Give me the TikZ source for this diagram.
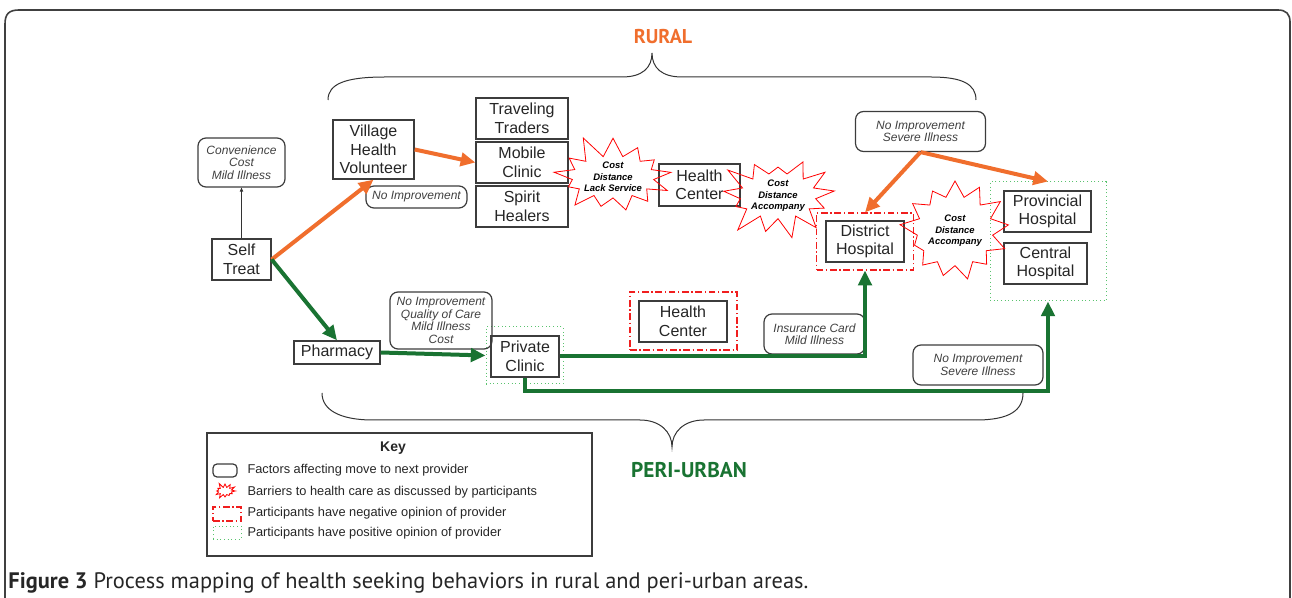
\documentclass[tikz,border=0pt]{standalone}
\usepackage{fontspec}
\setmainfont{Liberation Sans}
\newfontfamily\capfont{PT Sans}
\usetikzlibrary{arrows.meta,shapes.symbols}

\definecolor{ruralorange}{RGB}{240,110,45}
\definecolor{urbangreen}{RGB}{25,115,50}
\definecolor{posgreen}{RGB}{90,195,110}
\definecolor{negred}{RGB}{240,30,30}
\definecolor{boxgray}{RGB}{60,60,60}

\newcommand{\provfont}{\fontsize{12}{13.9}\selectfont}
\newcommand{\factfont}{\fontsize{9}{9.4}\selectfont\itshape}
\newcommand{\barfont}{\fontsize{7.1}{8.6}\selectfont\bfseries\itshape}
\newcommand{\keyfont}{\fontsize{9.6}{11}\selectfont}

\tikzset{every picture/.style={line width=0.75pt}}
\tikzset{
  provider/.style={draw=boxgray, line width=1pt, fill=white, align=center, font=\provfont, text=black!85, inner sep=0pt},
  factor/.style={draw=boxgray, line width=0.9pt, rounded corners=6pt, align=center, font=\factfont, text=black!75, inner sep=0pt},
  barrier/.style={starburst, draw=red, line width=0.6pt, align=center, font=\barfont, inner sep=0pt, starburst points=13, starburst point height=18pt},
  negbox/.style={draw=negred, line width=0.9pt, dash pattern=on 5pt off 2pt on 1pt off 2pt, inner sep=0pt},
  posbox/.style={draw=posgreen, dotted, line width=0.75pt, inner sep=0pt},
  ruralarrow/.style={draw=ruralorange, line width=3pt, -{Triangle[length=11pt,width=10pt]}},
  urbanarrow/.style={draw=urbangreen, line width=3pt, -{Triangle[length=11pt,width=10pt]}},
  brace/.style={draw=black!80, line width=0.75pt},
  keytext/.style={anchor=west, font=\keyfont, text=black!85, inner sep=0pt}
}

\begin{document}
\begin{tikzpicture}[x=0.75pt,y=0.75pt,yscale=-1,xscale=1]
\useasboundingbox (0,0) rectangle (1292,598);

%Shape: Frame
\draw [draw=black!75, line width=1.2pt] (5,598) -- (5,24) .. controls (5,14) and (9,10) .. (19,10) -- (1278,10) .. controls (1286,10) and (1290,14) .. (1290,22) -- (1290,598) ;

%Shape: Brace (rural)
\draw [brace] (328,100) .. controls (328,84) and (345,77) .. (385,77) -- (622,77) .. controls (642,77) and (652,68) .. (652,53) .. controls (652,68) and (662,77) .. (682,77) -- (931,77) .. controls (962,77) and (976,84) .. (976,100) ;
%Shape: Brace (peri-urban)
\draw [brace] (322,393) .. controls (322,410) and (340,420) .. (373,420) -- (640,420) .. controls (660,420) and (672,432) .. (672,447) .. controls (672,432) and (684,420) .. (704,420) -- (976,420) .. controls (1010,420) and (1023,410) .. (1023,393) ;

% Text Node
\node [font=\capfont\bfseries\fontsize{15}{18}\selectfont, text=ruralorange] (rural) at (663,37) {RURAL};
% Text Node
\node [font=\capfont\bfseries\fontsize{16}{18}\selectfont, text=urbangreen] (periurban) at (689,470) {PERI-URBAN};

%Shape: Opinion boxes
\node [negbox, minimum width=72.75pt, minimum height=42.75pt] (dhbox) at (865,241.5) {};
\node [negbox, minimum width=80.25pt, minimum height=43.5pt] (hcbox) at (683.5,321) {};
\node [posbox, minimum width=87pt, minimum height=89.25pt] (hospbox) at (1048,241.5) {};
\node [posbox, minimum width=57.75pt, minimum height=42.75pt] (pcbox) at (524.5,355.5) {};

%Shape: Providers
\node [provider, minimum width=44.25pt, minimum height=30.75pt] (selftreat) at (241.5,259.5) {Self\\Treat};
\node [provider, minimum width=60.75pt, minimum height=44.25pt] (vhv) at (373.5,149.5) {Village\\Health\\Volunteer};
\node [provider, minimum width=69pt, minimum height=30.75pt] (traders) at (522,118.5) {Traveling\\Traders};
\node [provider, minimum width=69pt, minimum height=30.75pt] (mobile) at (522,162.5) {Mobile\\Clinic};
\node [provider, minimum width=69pt, minimum height=30.75pt] (spirit) at (522,206.5) {Spirit\\Healers};
\node [provider, minimum width=60.75pt, minimum height=31.5pt] (hcrural) at (699.5,185) {Health\\Center};
\node [provider, minimum width=58.5pt, minimum height=30.75pt] (district) at (865,241.5) {District\\Hospital};
\node [provider, minimum width=65.25pt, minimum height=30.75pt] (provincial) at (1047.5,211.5) {Provincial\\Hospital};
\node [provider, minimum width=62.25pt, minimum height=30.75pt] (central) at (1045.5,263.5) {Central\\Hospital};
\node [provider, minimum width=64.5pt, minimum height=17.25pt] (pharmacy) at (337,352.5) {Pharmacy};
\node [provider, minimum width=51pt, minimum height=30.75pt] (private) at (525,356.5) {Private\\Clinic};
\node [provider, minimum width=66pt, minimum height=30.75pt] (hcurban) at (683,321.5) {Health\\Center};

%Shape: Factors
\node [factor, minimum width=65.25pt, minimum height=36.75pt] (convf) at (241.5,162.5) {Convenience\\Cost\\Mild Illness};
\node [factor, minimum width=75.75pt, minimum height=16.5pt] (noimpf) at (416.5,197) {No Improvement};
\node [factor, minimum width=97.5pt, minimum height=30pt] (topf) at (920.5,131.5) {No Improvement\\Severe Illness};
\node [factor, minimum width=76.5pt, minimum height=42.75pt] (qualf) at (441,320.5) {No Improvement\\Quality of Care\\Mild Illness\\Cost};
\node [factor, minimum width=75.75pt, minimum height=30pt] (insf) at (814.5,334) {Insurance Card\\Mild Illness};
\node [factor, minimum width=97.5pt, minimum height=30pt] (lowf) at (978,365) {No Improvement\\Severe Illness};

%Shape: Barriers
\node [barrier, minimum width=74pt, minimum height=60pt, random starburst=11] (star1) at (613,177) {Cost\\Distance\\Lack Service};
\node [barrier, minimum width=63pt, minimum height=70pt, random starburst=23] (star2) at (778,196) {Cost\\Distance\\Accompany};
\node [barrier, minimum width=50pt, minimum height=80pt, starburst point height=14pt, random starburst=37] (star3) at (955,231) {Cost\\Distance\\Accompany};

%Straight Lines
\draw [draw=black!80, line width=0.6pt, -{Triangle[length=3pt,width=2.5pt]}] (selftreat) -- (convf) ;
\draw [ruralarrow] (selftreat.east) -- (vhv.south) ;
\draw [ruralarrow] (vhv.east) -- (mobile.west) ;
\draw [ruralarrow] (topf.south) -- (dhbox.north) ;
\draw [ruralarrow] (topf.south) -- (hospbox.north) ;
\draw [urbanarrow] (selftreat.east) -- (pharmacy.north) ;
\draw [urbanarrow] (pharmacy.east) -- (pcbox.west) ;
\draw [urbanarrow] (private.east) -| (dhbox.south) ;
\coordinate (lowrun) at (525,391) ;
\draw [urbanarrow] (private.south) -- (lowrun) -| (hospbox.south) ;

%Shape: Key
\node [draw=boxgray, line width=0.9pt, minimum width=288.75pt, minimum height=92.25pt, inner sep=0pt] (keybox) at (399.5,494.5) {};
\node [font=\fontsize{10.5}{12}\selectfont\bfseries, text=black!85] (keyhead) at (393,448) {Key};
\node [factor, minimum width=18pt, minimum height=9.75pt, rounded corners=3pt] (keyficon) at (225,470.5) {};
\node [barrier, minimum width=18pt, minimum height=13.5pt, starburst points=12, starburst point height=4pt, random starburst=5] (keybicon) at (225,491) {};
\node [negbox, minimum width=21pt, minimum height=10.5pt] (keynicon) at (227,514) {};
\node [posbox, minimum width=21pt, minimum height=9.75pt] (keypicon) at (227,532.5) {};
% Text Node
\node [keytext] (keyf) at (247,470.5) {Factors affecting move to next provider};
\node [keytext] (keyb) at (247,492) {Barriers to health care as discussed by participants};
\node [keytext] (keyn) at (247,513) {Participants have negative opinion of provider};
\node [keytext] (keyp) at (247,533.5) {Participants have positive opinion of provider};

% Text Node
\node [anchor=west, inner sep=0pt, font=\capfont\fontsize{16.8}{18}\selectfont, text=black!85] (caption) at (8,583) {\textbf{Figure 3} Process mapping of health seeking behaviors in rural and peri-urban areas.};

\end{tikzpicture}
\end{document}
